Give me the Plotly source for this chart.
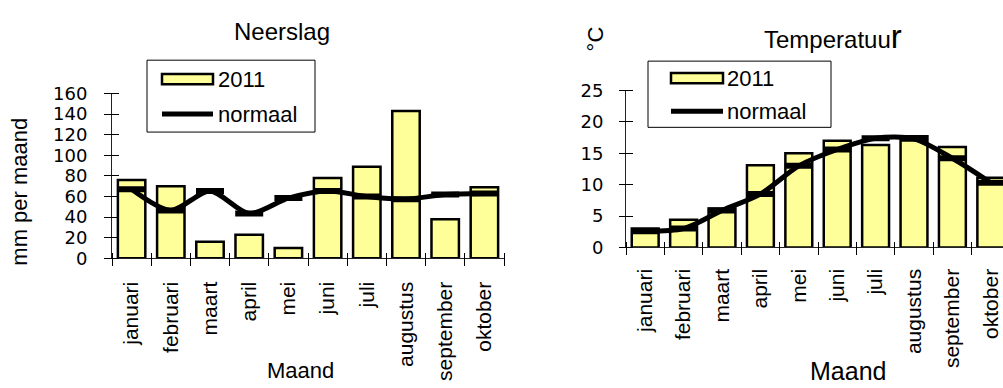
import plotly.graph_objects as go

# Monthly data
months = ["januari", "februari", "maart", "april", "mei", "juni", "juli",
          "augustus", "september", "oktober"]
rain_2011 = [76, 70, 16, 23, 10, 78, 89, 143, 38, 69]
rain_normal = [67, 46.5, 65.5, 43.5, 58.5, 65.5, 60, 57.5, 62, 63]
temp_2011 = [3.0, 4.4, 6.2, 13.1, 15.0, 17.0, 16.3, 17.7, 16.0, 11.1]
temp_normal = [2.6, 3.0, 5.9, 8.5, 13.0, 15.6, 17.4, 17.3, 14.2, 10.3]
rain_ticks = [0, 20, 40, 60, 80, 100, 120, 140, 160]
temp_ticks = [0, 5, 10, 15, 20, 25]

W, H = 1003, 388
FONT = "Liberation Sans, Arial, sans-serif"
NUM_FONT = "DejaVu Sans, Liberation Sans, sans-serif"
BAR_FILL = "#FFFF99"


def px(x):
    return x / W


def py(y):
    return 1 - y / H


fig = go.Figure()


def hidden(x, y, xa, ya):
    # transparent copy of a series that carries a tick-only axis
    fig.add_trace(go.Scatter(x=x, y=y, mode="markers", marker=dict(opacity=0),
                             xaxis=xa, yaxis=ya, showlegend=False, hoverinfo="skip"))


def panel(values, normal, xa, ya):
    fig.add_trace(go.Bar(x=months, y=values, name="2011", width=0.7,
                         marker=dict(color=BAR_FILL, line=dict(color="black", width=2.5)),
                         xaxis=xa, yaxis=ya, showlegend=False))
    fig.add_trace(go.Scatter(x=months, y=normal, name="normaal", mode="lines+markers",
                             line=dict(color="black", width=5, shape="spline", smoothing=0.8),
                             marker=dict(symbol="line-ew", size=20, color="black",
                                         line=dict(color="black", width=6)),
                             xaxis=xa, yaxis=ya, showlegend=False))


panel(rain_2011, rain_normal, "x", "y")
hidden(months, rain_2011, "x3", "y")
hidden(months, rain_2011, "x", "y3")
panel(temp_2011, temp_normal, "x2", "y2")
hidden(months, temp_2011, "x4", "y2")
hidden(months, temp_2011, "x2", "y4")

left_x = [px(112), px(504)]
left_y = [py(261.5), py(87.3)]
right_x = [px(626), 1.0]
right_y = [py(250), py(84)]
left_range = [-0.5, 9.5]
right_range = [-0.5, -0.5 + (W - 626) / 38.4]

cat_common = dict(type="category", categoryorder="array", categoryarray=months,
                  tickson="boundaries", showgrid=False, zeroline=False,
                  tickcolor="black", tickwidth=1)
lin_common = dict(showgrid=False, zeroline=False, tickcolor="black", tickwidth=1,
                  tickmode="array")

fig.update_layout(
    width=W, height=H, margin=dict(l=0, r=0, t=0, b=0),
    paper_bgcolor="white", plot_bgcolor="rgba(0,0,0,0)",
    font=dict(family=FONT, color="black"),
    bargap=0.3,
    # Neerslag: labelled axes with the axis lines
    xaxis=dict(**cat_common, domain=left_x, range=left_range, anchor="y",
               showline=True, linecolor="#222", linewidth=1,
               ticks="", tickangle=-90, ticklabelstandoff=14,
               tickfont=dict(size=21, family=FONT)),
    yaxis=dict(**lin_common, domain=left_y, range=[0, 160], tickvals=rain_ticks,
               anchor="x", showline=True, linecolor="#222", linewidth=1,
               ticks="", ticklabelstandoff=20,
               tickfont=dict(size=18, family=NUM_FONT)),
    # Neerslag: tick marks that cross the axis lines
    xaxis3=dict(**cat_common, domain=left_x, range=left_range, anchor="free",
                position=py(254.5), ticks="outside", ticklen=13,
                showticklabels=False, showline=False),
    yaxis3=dict(**lin_common, domain=left_y, range=[0, 160], tickvals=rain_ticks,
                anchor="free", position=px(118.5), ticks="outside", ticklen=15,
                showticklabels=False, showline=False),
    # Temperatuur: labelled axes with the axis lines
    xaxis2=dict(**cat_common, domain=right_x, range=right_range, anchor="y2",
                showline=True, linecolor="#222", linewidth=1,
                ticks="", tickangle=-90, ticklabelstandoff=12,
                tickfont=dict(size=21, family=FONT)),
    yaxis2=dict(**lin_common, domain=right_y, range=[0, 25], tickvals=temp_ticks,
                anchor="x2", showline=True, linecolor="#222", linewidth=1,
                ticks="", ticklabelstandoff=18,
                tickfont=dict(size=18, family=NUM_FONT)),
    # Temperatuur: crossing tick marks
    xaxis4=dict(**cat_common, domain=right_x, range=right_range, anchor="free",
                position=py(243.5), ticks="outside", ticklen=13,
                showticklabels=False, showline=False),
    yaxis4=dict(**lin_common, domain=right_y, range=[0, 25], tickvals=temp_ticks,
                anchor="free", position=px(633), ticks="outside", ticklen=14,
                showticklabels=False, showline=False),
)


def text(x, y, s, size, xanchor="center", angle=0):
    fig.add_annotation(x=px(x), y=py(y), xref="paper", yref="paper", text=s,
                       showarrow=False, xanchor=xanchor, yanchor="middle",
                       textangle=angle, font=dict(size=size, family=FONT, color="black"))


# Titles and axis labels
text(282, 22, "Neerslag", 24)
text(833, 27, "Temperatuu<span style='font-size:33px'>r</span>", 24)
text(20, 191, "mm per maand", 22, angle=-90)
text(595, 30, "°C", 22, angle=-90)
text(300, 380, "Maand", 22)
text(848, 381, "Maand", 25)


def legend(box, swatch_x, bar_y, line_y, text_x):
    x0, y0, x1, y1 = box
    fig.add_shape(type="rect", xref="paper", yref="paper",
                  x0=px(x0), y0=py(y1), x1=px(x1), y1=py(y0),
                  line=dict(color="black", width=1), fillcolor="white", layer="above")
    sx0, sx1 = swatch_x
    fig.add_shape(type="rect", xref="paper", yref="paper",
                  x0=px(sx0), y0=py(bar_y + 5.5), x1=px(sx1), y1=py(bar_y - 5.5),
                  line=dict(color="black", width=2.5), fillcolor=BAR_FILL, layer="above")
    fig.add_shape(type="line", xref="paper", yref="paper",
                  x0=px(sx0), y0=py(line_y), x1=px(sx1), y1=py(line_y),
                  line=dict(color="black", width=5), layer="above")
    text(text_x, bar_y, "2011", 22, xanchor="left")
    text(text_x, line_y, "normaal", 22, xanchor="left")


legend((147, 52, 315, 128), (162, 213), 72, 109, 216)
legend((648, 53, 831, 123), (671, 723), 71, 106, 725)

fig.write_html("out.html")
